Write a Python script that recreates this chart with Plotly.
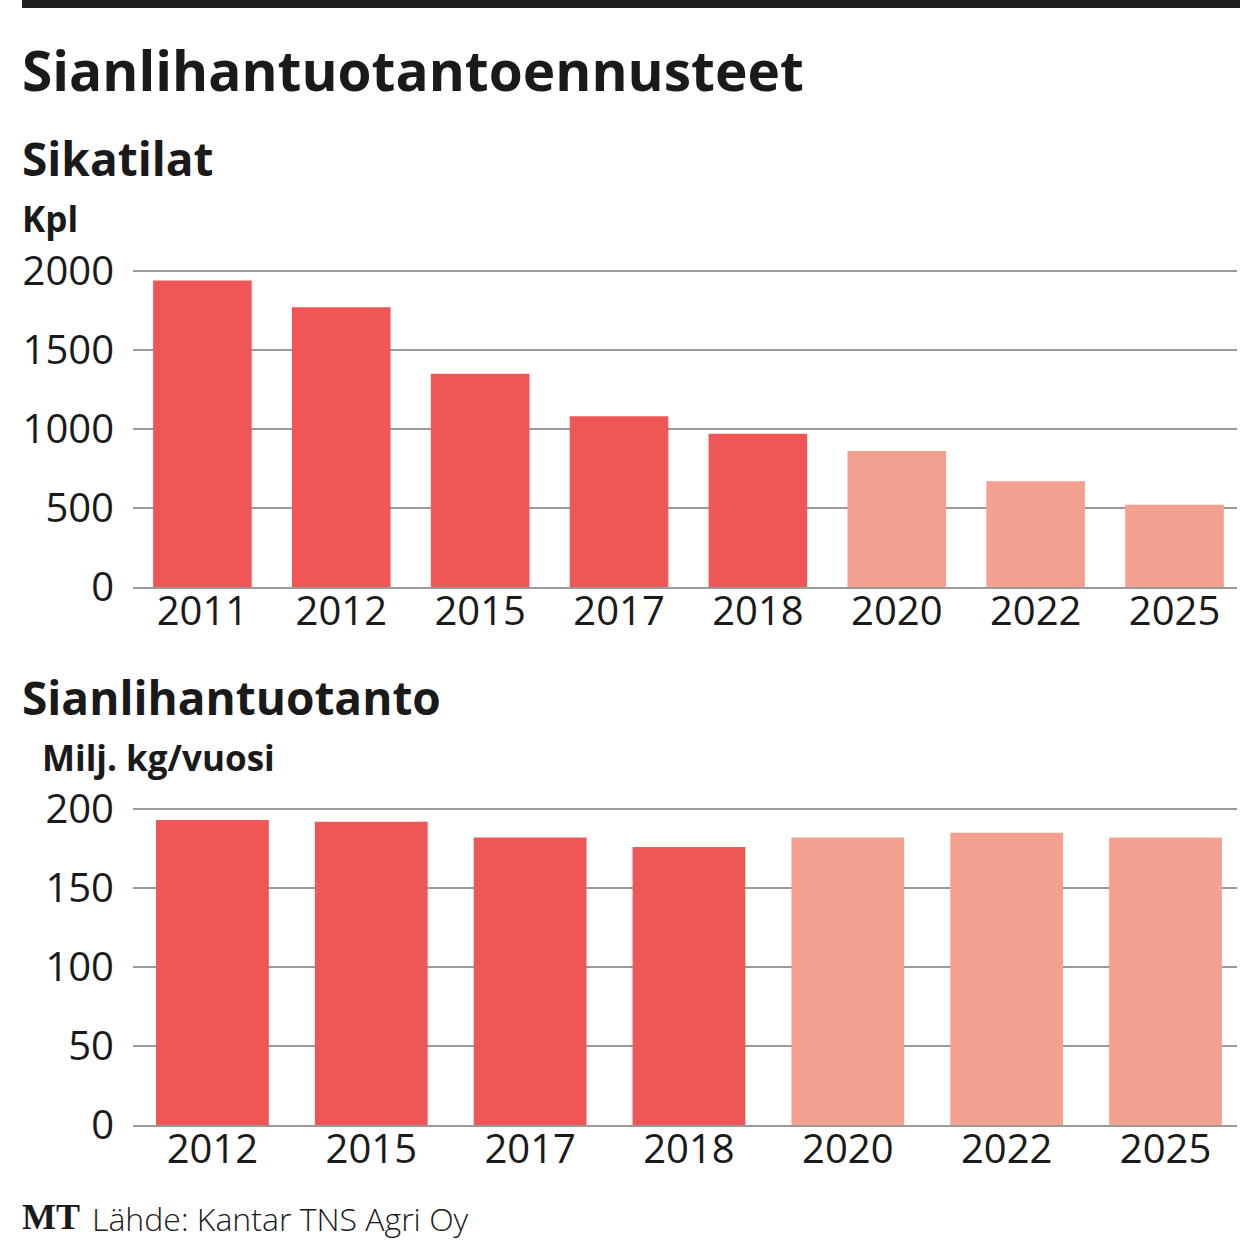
import plotly.graph_objects as go

W, H = 1240, 1243

# ---- data ----
farm_years = ["2011", "2012", "2015", "2017", "2018", "2020", "2022", "2025"]
farm_counts = [1940, 1770, 1350, 1080, 970, 860, 670, 520]
farm_forecast = [False, False, False, False, False, True, True, True]

prod_years = ["2012", "2015", "2017", "2018", "2020", "2022", "2025"]
prod_values = [193, 192, 182, 176, 182, 185, 182]
prod_forecast = [False, False, False, False, True, True, True]

farm_ticks = [0, 500, 1000, 1500, 2000]
prod_ticks = [0, 50, 100, 150, 200]

title = "Sianlihantuotantoennusteet"
sub1 = "Sikatilat"
unit1 = "Kpl"
sub2 = "Sianlihantuotanto"
unit2 = "Milj. kg/vuosi"
source = "Lähde: Kantar TNS Agri Oy"

ACTUAL = "#EF5656"
FORECAST = "#F4A08F"
GRID = "#9a9a9a"
TXT = "#1a1a1a"
FONT = "Open Sans"


def py(px):
    return 1 - px / H


def pxx(px):
    return px / W


fig = go.Figure()
fig.add_trace(go.Bar(
    x=farm_years, y=farm_counts,
    marker=dict(color=[FORECAST if f else ACTUAL for f in farm_forecast], line=dict(width=0)),
    xaxis="x", yaxis="y", showlegend=False, hoverinfo="x+y",
))
fig.add_trace(go.Bar(
    x=prod_years, y=prod_values,
    marker=dict(color=[FORECAST if f else ACTUAL for f in prod_forecast], line=dict(width=0)),
    xaxis="x2", yaxis="y2", showlegend=False, hoverinfo="x+y",
))

tickfont = dict(family=FONT, size=40, color=TXT, weight=400)

common_x = dict(
    showgrid=False, showline=True, linecolor=GRID, linewidth=1.5,
    ticks="", tickfont=tickfont, fixedrange=True, ticklabelstandoff=-12,
    automargin=False,
)
common_y = dict(
    showgrid=True, gridcolor=GRID, gridwidth=1.5, zeroline=False,
    showline=False, ticks="", tickfont=tickfont, fixedrange=True,
    ticklabelstandoff=18, automargin=False,
)

# plot areas: zero line at y0 px, max tick at ytop px
R1 = 2010
R2 = 201
top1_px = 587 - (587 - 271) * R1 / 2000
top2_px = 1125 - (1125 - 809) * R2 / 200

fig.update_layout(
    width=W, height=H,
    margin=dict(l=0, r=0, t=0, b=0, pad=0, autoexpand=False),
    showlegend=False,
    paper_bgcolor="white", plot_bgcolor="white",
    bargap=0.29,
    xaxis=dict(domain=[pxx(133), pxx(1237)], anchor="y",
               range=[-0.5, len(farm_years) - 0.55], **common_x),
    yaxis=dict(domain=[py(587), py(top1_px)], anchor="x",
               range=[0, R1], tickvals=farm_ticks, **common_y),
    xaxis2=dict(domain=[pxx(133), pxx(1237)], anchor="y2",
                range=[-0.5, len(prod_years) - 0.55], **common_x),
    yaxis2=dict(domain=[py(1125), py(top2_px)], anchor="x2",
                range=[0, R2], tickvals=prod_ticks, **common_y),
    shapes=[dict(type="rect", xref="paper", yref="paper",
                 x0=pxx(22), x1=1, y0=py(8), y1=1,
                 fillcolor="#1e1e1e", line=dict(width=0))],
)


def label(text, x, y, size, weight=700, family=FONT, color=TXT):
    fig.add_annotation(text=text, xref="paper", yref="paper",
                       x=pxx(x), y=py(y), xanchor="left", yanchor="middle",
                       showarrow=False,
                       font=dict(family=family, size=size, color=color, weight=weight))


label(title, 20, 70, 55)
label(sub1, 20, 158, 46)
label(unit1, 20, 218, 35)
label(sub2, 20, 697, 46)
label(unit2, 40, 758, 35)
label("MT", 20, 1217, 36, family="Liberation Serif", weight=700)
label(source, 90, 1218, 32, weight=300)

fig.write_html(
    "out.html",
    config={"displayModeBar": False},
    post_script="document.body.style.margin='0';document.body.style.overflow='hidden';",
)
